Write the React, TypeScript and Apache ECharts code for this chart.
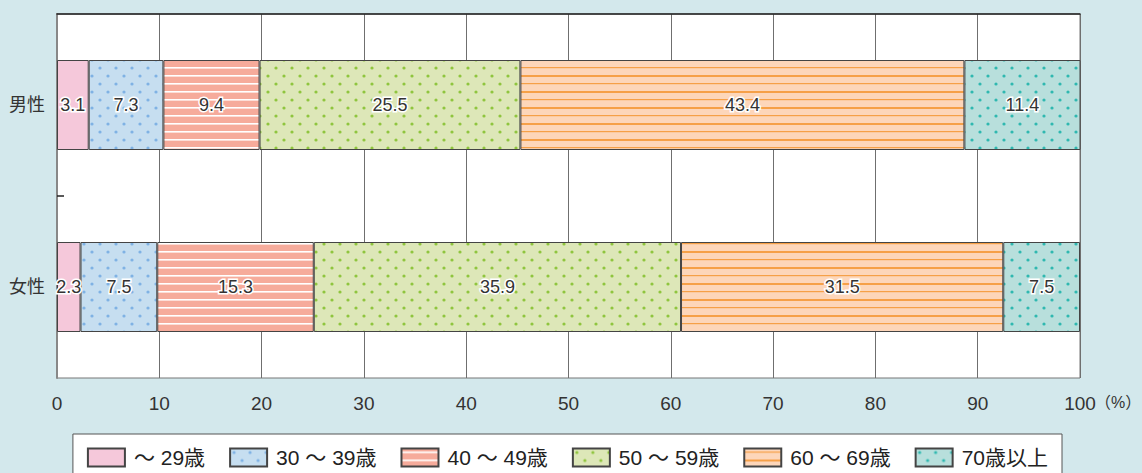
import React, { useEffect, useRef } from "react";
import * as echarts from "echarts";

const categories = ["男性", "女性"];
const seriesNames = ["～ 29歳", "30 ～ 39歳", "40 ～ 49歳", "50 ～ 59歳", "60 ～ 69歳", "70歳以上"];
const maleValues = [3.1, 7.3, 9.4, 25.5, 43.4, 11.4];
const femaleValues = [2.3, 7.5, 15.3, 35.9, 31.5, 7.5];
const xTickLabels = ["0", "10", "20", "30", "40", "50", "60", "70", "80", "90", "100"];

const FONT = "'Liberation Sans', 'Noto Sans CJK JP', sans-serif";

function dotPattern(bg: string, dot: string) {
  const c = document.createElement("canvas");
  c.width = 16;
  c.height = 16;
  const ctx = c.getContext("2d")!;
  ctx.fillStyle = bg;
  ctx.fillRect(0, 0, 16, 16);
  ctx.fillStyle = dot;
  [[4, 4], [12, 12]].forEach(([x, y]) => {
    ctx.beginPath();
    ctx.arc(x, y, 1.6, 0, Math.PI * 2);
    ctx.fill();
  });
  return { image: c, repeat: "repeat", imageWidth: 16, imageHeight: 16 };
}

function stripePattern(bg: string, line: string, widths: number[]) {
  const h = 8 * widths.length;
  const c = document.createElement("canvas");
  c.width = 8;
  c.height = h;
  const ctx = c.getContext("2d")!;
  ctx.fillStyle = bg;
  ctx.fillRect(0, 0, 8, h);
  ctx.fillStyle = line;
  widths.forEach((w, i) => {
    ctx.fillRect(0, i * 8 + 3, 8, w);
  });
  return { image: c, repeat: "repeat", imageWidth: 8, imageHeight: h };
}

export default function App() {
  const ref = useRef<HTMLDivElement>(null);
  useEffect(() => {
    document.body.style.margin = "0";
    const chart = echarts.init(ref.current!, null, { renderer: "svg" });
    const fills = [
      "#f5c8da",
      dotPattern("#c6def0", "#7fb2e4"),
      stripePattern("#f6ab9b", "#ffffff", [1.6]),
      dotPattern("#dde7b8", "#8fc53e"),
      stripePattern("#fdd6ba", "#f6a048", [1.2, 2]),
      dotPattern("#b8dfdc", "#2fb8b0"),
    ];
    const series = seriesNames.map((name, i) => ({
      name,
      type: "bar",
      stack: "total",
      barWidth: 90,
      data: [maleValues[i], femaleValues[i]],
      itemStyle: { color: fills[i], borderColor: "#444", borderWidth: 1 },
      label: {
        show: true,
        position: "inside",
        formatter: "{c}",
        fontSize: 18,
        fontFamily: FONT,
        color: "#333",
        textBorderColor: "#fff",
        textBorderWidth: 3,
      },
    }));
    chart.setOption({
      animation: false,
      backgroundColor: "#d3e8ec",
      grid: {
        left: 57,
        right: 62,
        top: 14,
        bottom: 95,
        show: true,
        backgroundColor: "#fff",
        borderColor: "#777",
        borderWidth: 1,
      },
      xAxis: [
        {
          type: "value",
          min: 0,
          max: 100,
          interval: 10,
          position: "bottom",
          axisLine: { show: false },
          axisTick: { show: false },
          axisLabel: {
            fontSize: 19,
            fontFamily: FONT,
            color: "#333",
            margin: 16,
            formatter: (v: number) => xTickLabels[Math.round(v / 10)],
          },
          splitLine: { show: true, lineStyle: { color: "#6f6f6f", width: 1 } },
        },
        {
          type: "value",
          min: 0,
          max: 100,
          position: "top",
          axisLine: { show: true, lineStyle: { color: "#222", width: 1.5 } },
          axisTick: { show: false },
          axisLabel: { show: false },
          splitLine: { show: false },
        },
      ],
      yAxis: [
        {
          type: "category",
          inverse: true,
          data: categories,
          axisLine: { show: true, lineStyle: { color: "#888", width: 2 } },
          axisTick: { show: false },
          axisLabel: { fontSize: 18, fontFamily: FONT, color: "#333", margin: 12 },
        },
        {
          type: "value",
          min: 0,
          max: 2,
          interval: 1,
          position: "left",
          axisLine: { show: false },
          axisLabel: { show: false },
          splitLine: { show: false },
          axisTick: {
            show: true,
            inside: true,
            length: 7,
            customValues: [1],
            lineStyle: { color: "#222", width: 1.5 },
          },
        },
      ],
      legend: {
        data: seriesNames,
        right: 80,
        top: 434,
        orient: "horizontal",
        icon: "rect",
        itemWidth: 37,
        itemHeight: 18,
        itemGap: 24,
        padding: [13, 14, 13, 14],
        backgroundColor: "#fff",
        borderColor: "#555",
        borderWidth: 1,
        selectedMode: false,
        textStyle: { fontSize: 21, fontFamily: FONT, color: "#222", padding: [0, 0, 0, 4] },
      },
      graphic: [
        {
          type: "text",
          left: 1095,
          top: 394,
          style: { text: "（%）", fontSize: 16, fontFamily: FONT, fill: "#333" },
        },
      ],
      series,
    });
    return () => chart.dispose();
  }, []);
  return <div ref={ref} style={{ width: 1142, height: 473 }} />;
}
